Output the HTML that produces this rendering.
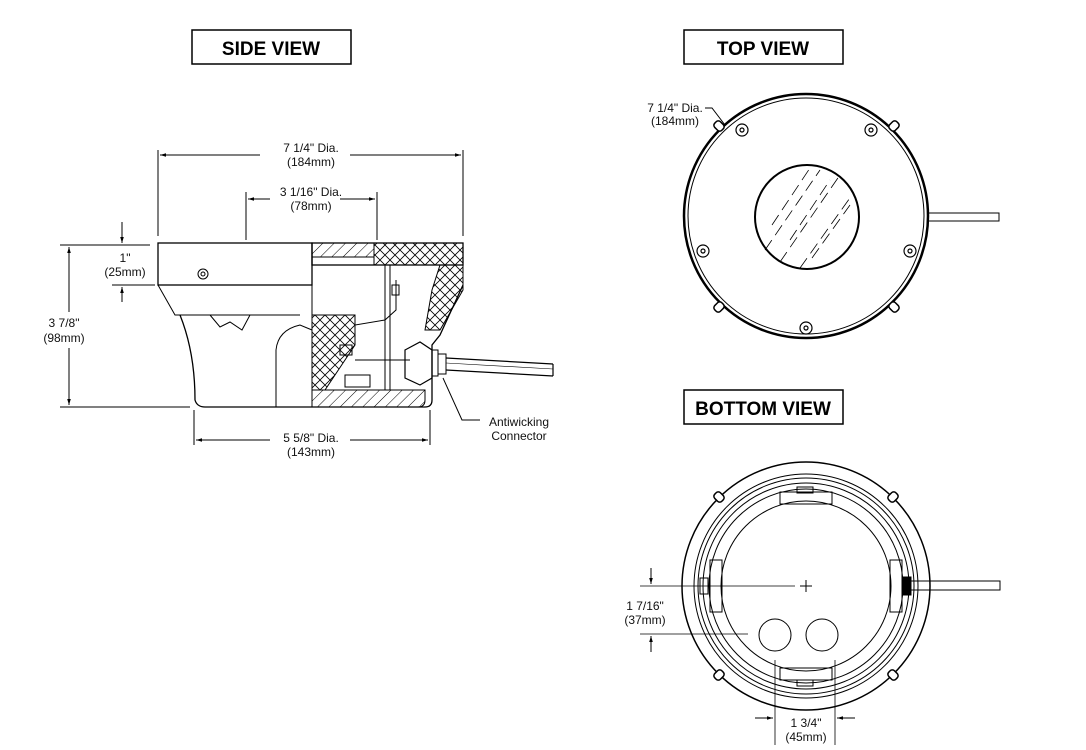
<!DOCTYPE html>
<html><head><meta charset="utf-8"><style>
body{margin:0;background:#fff;}
svg{display:block;font-family:"Liberation Sans",sans-serif;}
.t{font-size:12px;text-anchor:middle;fill:#111}
.h{font-size:19px;font-weight:bold;text-anchor:middle;fill:#000}
</style></head><body>
<svg width="1086" height="750" viewBox="0 0 1086 750" xmlns="http://www.w3.org/2000/svg">
<defs>
<marker id="a" viewBox="0 0 10 10" refX="10" refY="5" markerWidth="8" markerHeight="6" orient="auto-start-reverse"><path d="M0,2 L10,5 L0,8z" fill="#000"/></marker>
<pattern id="hat" width="8" height="8" patternUnits="userSpaceOnUse" patternTransform="rotate(45)"><line x1="0" y1="0" x2="0" y2="8" stroke="#000" stroke-width="1"/></pattern>
<pattern id="xh" width="10" height="10" patternUnits="userSpaceOnUse"><path d="M0,0L10,10M10,0L0,10" stroke="#000" stroke-width="0.8"/></pattern>
</defs>
<g fill="none" stroke="#000">
<rect x="192" y="30" width="159" height="34" stroke-width="1.5"/>
<rect x="684" y="30" width="159" height="34" stroke-width="1.5"/>
<rect x="684" y="390" width="159" height="34" stroke-width="1.5"/>
</g>
<text class="h" x="271" y="55">SIDE VIEW</text>
<text class="h" x="763" y="55">TOP VIEW</text>
<text class="h" x="763" y="415">BOTTOM VIEW</text>

<!-- SIDE VIEW -->
<g fill="none" stroke="#000" stroke-width="1">
<line x1="158" y1="150" x2="158" y2="236"/><line x1="463" y1="150" x2="463" y2="236"/>
<line x1="160" y1="155" x2="260" y2="155" marker-start="url(#a)"/><line x1="350" y1="155" x2="461" y2="155" marker-end="url(#a)"/>
<line x1="246" y1="192" x2="246" y2="240"/><line x1="377" y1="192" x2="377" y2="240"/>
<line x1="248" y1="199" x2="270" y2="199" marker-start="url(#a)"/><line x1="340" y1="199" x2="375" y2="199" marker-end="url(#a)"/>
<line x1="60" y1="245" x2="150" y2="245"/><line x1="60" y1="407" x2="190" y2="407"/>
<line x1="69" y1="247" x2="69" y2="312" marker-start="url(#a)"/><line x1="69" y1="348" x2="69" y2="405" marker-end="url(#a)"/>
<line x1="122" y1="222" x2="122" y2="243" marker-end="url(#a)"/><line x1="122" y1="302" x2="122" y2="287" marker-end="url(#a)"/>
<line x1="112" y1="285" x2="155" y2="285"/>
<line x1="194" y1="410" x2="194" y2="445"/><line x1="430" y1="410" x2="430" y2="445"/>
<line x1="196" y1="440" x2="270" y2="440" marker-start="url(#a)"/><line x1="350" y1="440" x2="428" y2="440" marker-end="url(#a)"/>
<rect x="158" y="243" width="154" height="42" stroke-width="1.3"/>
<path d="M158,285 L175,315 L300,315" />
<path d="M180,315 C190,340 195,370 195,400 Q197,407 205,407 L312,407" stroke-width="1.3"/>
<path d="M312,330 L300,325 Q278,330 276,350 L276,407"/>
<path d="M210,315 l10,12 l10,-5 l12,8 l8,-15"/>
<circle cx="203" cy="274" r="5"/><circle cx="203" cy="274" r="2"/>
<rect x="312" y="243" width="62" height="14" fill="url(#hat)"/>
<rect x="374" y="243" width="89" height="22" fill="url(#xh)"/>
<rect x="312" y="243" width="151" height="22" stroke-width="1.3"/>
<path d="M440,265 L463,265 L463,290 L440,330 L425,330 L432,290 Z" fill="url(#xh)"/>
<path d="M463,285 L440,335 L432,345 L432,400 Q432,407 425,407 L312,407" stroke-width="1.3"/>
<path d="M312,315 L355,315 L355,345 L325,390 L312,390 Z" fill="url(#xh)"/>
<path d="M312,390 L425,390 L425,400 Q425,407 418,407 L312,407" fill="url(#hat)"/>
<path d="M312,243 L312,407"/>
<line x1="385" y1="265" x2="385" y2="390"/><line x1="390" y1="265" x2="390" y2="390"/>
<path d="M396,280 L396,310 L385,320 L355,325 L355,345"/>
<rect x="392" y="285" width="7" height="10"/>
<rect x="340" y="345" width="12" height="10"/><rect x="345" y="375" width="25" height="12"/>
<line x1="355" y1="360" x2="410" y2="360"/>
<path d="M405,350 L420,342 L432,350 L432,378 L420,385 L405,378 Z" stroke-width="1.2"/>
<rect x="432" y="350" width="6" height="26"/>
<rect x="438" y="354" width="8" height="20"/>
<path d="M446,358 L553,364 M446,370 L553,376 M553,364 L553,376" stroke-width="1.2"/>
<line x1="446" y1="363" x2="553" y2="369" stroke-width="0.6"/>
<path d="M443,378 L462,420 L480,420"/>
</g>
<text class="t" x="311" y="152">7 1/4" Dia.</text>
<text class="t" x="311" y="166">(184mm)</text>
<text class="t" x="311" y="196">3 1/16" Dia.</text>
<text class="t" x="311" y="210">(78mm)</text>
<text class="t" x="64" y="327">3 7/8"</text>
<text class="t" x="64" y="342">(98mm)</text>
<text class="t" x="125" y="262">1"</text>
<text class="t" x="125" y="276">(25mm)</text>
<text class="t" x="311" y="442">5 5/8" Dia.</text>
<text class="t" x="311" y="456">(143mm)</text>
<text class="t" x="519" y="426">Antiwicking</text>
<text class="t" x="519" y="440">Connector</text>

<!-- TOP VIEW -->
<g fill="none" stroke="#000">
<circle cx="806" cy="216" r="122" stroke-width="2.5"/>
<circle cx="806" cy="216" r="118" stroke-width="1"/>
<circle cx="807" cy="217" r="52" stroke-width="2"/>
<g stroke-width="0.8">
<path d="M765,250 L820,170 M780,262 L840,175 M800,268 L852,195 M772,225 L810,168 M790,240 L830,180 M812,258 L850,205" stroke-dasharray="12,6"/>
</g>
<g stroke-width="1.2">
<circle cx="742" cy="130" r="6"/><circle cx="742" cy="130" r="2"/>
<circle cx="871" cy="130" r="6"/><circle cx="871" cy="130" r="2"/>
<circle cx="703" cy="251" r="6"/><circle cx="703" cy="251" r="2"/>
<circle cx="910" cy="251" r="6"/><circle cx="910" cy="251" r="2"/>
<circle cx="806" cy="328" r="6"/><circle cx="806" cy="328" r="2"/>
</g>
<g stroke-width="1.5" fill="#fff">
<rect x="715" y="121" width="8" height="10" rx="3" transform="rotate(-45 719 126)"/>
<rect x="890" y="121" width="8" height="10" rx="3" transform="rotate(45 894 126)"/>
<rect x="715" y="302" width="8" height="10" rx="3" transform="rotate(45 719 307)"/>
<rect x="890" y="302" width="8" height="10" rx="3" transform="rotate(-45 894 307)"/>
</g>
<path d="M928,213 L999,213 L999,221 L928,221" stroke-width="1"/>
<path d="M705,108 L712,108 L725,125" stroke-width="1"/>
</g>
<text class="t" x="675" y="112">7 1/4" Dia.</text>
<text class="t" x="675" y="125">(184mm)</text>

<!-- BOTTOM VIEW -->
<g fill="none" stroke="#000">
<circle cx="806" cy="586" r="124" stroke-width="1.5"/>
<circle cx="806" cy="586" r="112" stroke-width="1"/>
<circle cx="806" cy="586" r="108" stroke-width="1"/>
<circle cx="806" cy="586" r="103" stroke-width="1"/>
<circle cx="806" cy="586" r="97" stroke-width="1"/>
<circle cx="806" cy="586" r="85" stroke-width="1"/>
<g stroke-width="1.5" fill="#fff">
<rect x="715" y="492" width="8" height="10" rx="3" transform="rotate(-45 719 497)"/>
<rect x="889" y="492" width="8" height="10" rx="3" transform="rotate(45 893 497)"/>
<rect x="715" y="670" width="8" height="10" rx="3" transform="rotate(45 719 675)"/>
<rect x="889" y="670" width="8" height="10" rx="3" transform="rotate(-45 893 675)"/>
</g>
<rect x="780" y="492" width="52" height="12"/><rect x="797" y="487" width="16" height="6"/>
<rect x="780" y="668" width="52" height="12"/><rect x="797" y="680" width="16" height="6"/>
<rect x="710" y="560" width="12" height="52"/><rect x="890" y="560" width="12" height="52"/>
<rect x="700" y="578" width="8" height="16"/><rect x="903" y="577" width="8" height="18" fill="#000"/>
<circle cx="775" cy="635" r="16"/><circle cx="822" cy="635" r="16"/>
<path d="M911,581 L1000,581 L1000,590 L911,590"/>
<line x1="640" y1="586" x2="795" y2="586" stroke-width="0.8"/>
<line x1="800" y1="586" x2="812" y2="586"/><line x1="806" y1="580" x2="806" y2="592"/>
<line x1="640" y1="634" x2="748" y2="634" stroke-width="0.8"/>
<line x1="651" y1="568" x2="651" y2="584" marker-end="url(#a)"/>
<line x1="651" y1="652" x2="651" y2="636" marker-end="url(#a)"/>
<line x1="775" y1="660" x2="775" y2="745" stroke-width="0.8"/><line x1="835" y1="660" x2="835" y2="745" stroke-width="0.8"/>
<line x1="755" y1="718" x2="773" y2="718" marker-end="url(#a)"/>
<line x1="855" y1="718" x2="837" y2="718" marker-end="url(#a)"/>
</g>
<text class="t" x="645" y="610">1 7/16"</text>
<text class="t" x="645" y="624">(37mm)</text>
<text class="t" x="806" y="727">1 3/4"</text>
<text class="t" x="806" y="741">(45mm)</text>
</svg>
</body></html>
